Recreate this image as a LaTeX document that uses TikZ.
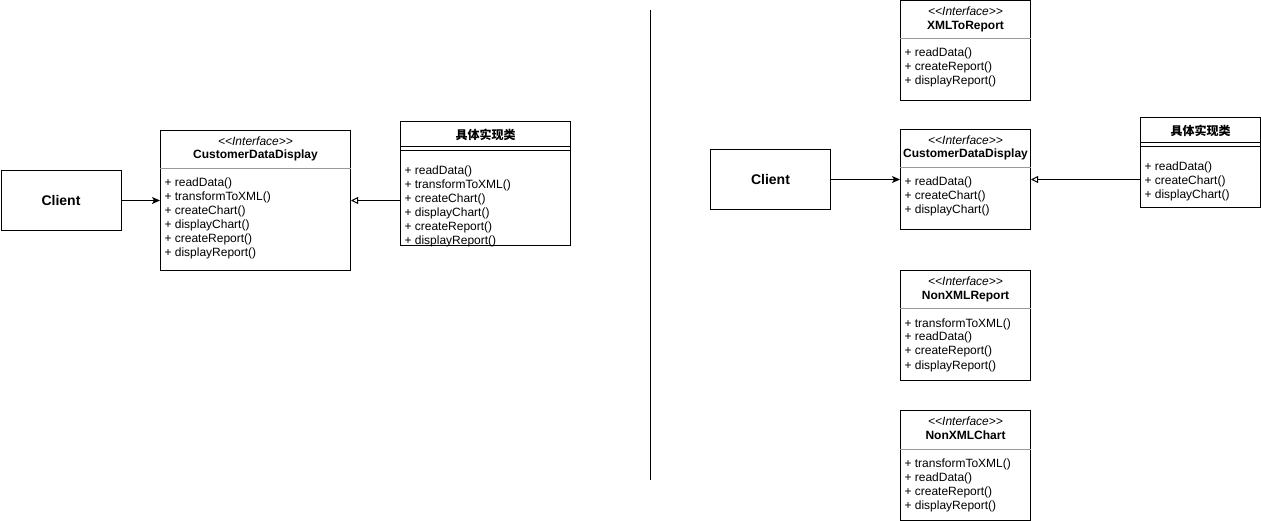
\documentclass[tikz,border=0pt]{standalone}
\usepackage{fontspec}
\setmainfont{Liberation Sans}
\newfontfamily\cjk{Noto Sans CJK SC}
\usetikzlibrary{arrows.meta, positioning}

\begin{document}
\begin{tikzpicture}[
        x=1pt, y=-1pt,
        line width=1pt,
        font=\fontsize{12}{14}\selectfont,
        box/.style={rectangle, draw, anchor=north west, inner sep=0pt},
        clientbox/.style={box, minimum width=120pt, minimum height=60pt, font=\fontsize{14}{16}\selectfont\bfseries},
        stereo/.style={anchor=base, inner sep=0pt, font=\fontsize{12}{14}\selectfont\itshape},
        classname/.style={anchor=base, inner sep=0pt, font=\fontsize{12}{14}\selectfont\bfseries},
        implname/.style={anchor=base, inner sep=0pt, font=\fontsize{12}{14}\selectfont\cjk\bfseries},
        method/.style={anchor=base west, inner sep=0pt},
        divider/.style={draw=black!40},
        uses/.style={-{Stealth[length=8pt, width=7pt, inset=2pt]}},
        realizes/.style={-{Triangle[open, length=7pt, width=7pt]}}
    ]
    \useasboundingbox (0,0) rectangle (1261,521);

    % ---- left: one fat interface
    \node (lclient) [clientbox] at (0.5,170) {Client};

    \node (lcdd) [box, minimum width=190pt, minimum height=140pt] at (160,130) {};
    \node (lcddst) [stereo] at ([yshift=-15.5pt]lcdd.north) {<{}<Interface>{}>};
    \node (lcddnm) [classname] at ([yshift=-29pt]lcdd.north) {CustomerDataDisplay};
    \draw [divider] ([yshift=-38.5pt]lcdd.north west) -- ([yshift=-38.5pt]lcdd.north east);
    \foreach \m [count=\i] in {readData(), transformToXML(), createChart(), displayChart(), createReport(), displayReport()}
        \node (lcddm\i) [method] at ([xshift=4pt, yshift={-57pt-14pt*(\i-1)}]lcdd.north west) {+ \m};

    \node (limpl) [box, minimum width=170pt, minimum height=124pt] at (400,121) {};
    \node (limplnm) [implname] at ([yshift=-18.5pt]limpl.north) {具体实现类};
    \draw ([yshift=-26pt]limpl.north west) -- ([yshift=-26pt]limpl.north east);
    \draw ([yshift=-30pt]limpl.north west) -- ([yshift=-30pt]limpl.north east);
    \foreach \m [count=\i] in {readData(), transformToXML(), createChart(), displayChart(), createReport(), displayReport()}
        \node (limplm\i) [method] at ([xshift=4pt, yshift={-53.5pt-14pt*(\i-1)}]limpl.north west) {+ \m};

    \draw [uses] (lclient) -- (lcdd);
    \draw [realizes] (limpl.west |- lcdd.east) -- (lcdd.east);

    % ---- separator
    \coordinate (septop) at (650,10);
    \coordinate (sepbot) at (650,480);
    \draw (septop) -- (sepbot);

    % ---- right: split interfaces
    \node (rclient) [clientbox] at (710,149) {Client};

    \node (rcdd) [box, minimum width=130pt, minimum height=100pt] at (900,129) {};
    \node (rcddst) [stereo] at ([yshift=-15.5pt]rcdd.north) {<{}<Interface>{}>};
    \node (rcddnm) [classname] at ([yshift=-29pt]rcdd.north) {CustomerDataDisplay};
    \draw [divider] ([yshift=-38.5pt]rcdd.north west) -- ([yshift=-38.5pt]rcdd.north east);
    \foreach \m [count=\i] in {readData(), createChart(), displayChart()}
        \node (rcddm\i) [method] at ([xshift=4pt, yshift={-57pt-14pt*(\i-1)}]rcdd.north west) {+ \m};

    \node (rimpl) [box, minimum width=120pt, minimum height=90pt] at (1140,117) {};
    \node (rimplnm) [implname] at ([yshift=-18.5pt]rimpl.north) {具体实现类};
    \draw ([yshift=-26pt]rimpl.north west) -- ([yshift=-26pt]rimpl.north east);
    \draw ([yshift=-30pt]rimpl.north west) -- ([yshift=-30pt]rimpl.north east);
    \foreach \m [count=\i] in {readData(), createChart(), displayChart()}
        \node (rimplm\i) [method] at ([xshift=4pt, yshift={-53.5pt-14pt*(\i-1)}]rimpl.north west) {+ \m};

    \draw [uses] (rclient) -- (rcdd);
    \draw [realizes] (rimpl.west |- rcdd.east) -- (rcdd.east);

    \node (xtr) [box, minimum width=130pt, minimum height=100pt] at (900,0.5) {};
    \node (xtrst) [stereo] at ([yshift=-15.5pt]xtr.north) {<{}<Interface>{}>};
    \node (xtrnm) [classname] at ([yshift=-29pt]xtr.north) {XMLToReport};
    \draw [divider] ([yshift=-38.5pt]xtr.north west) -- ([yshift=-38.5pt]xtr.north east);
    \foreach \m [count=\i] in {readData(), createReport(), displayReport()}
        \node (xtrm\i) [method] at ([xshift=4pt, yshift={-56pt-14pt*(\i-1)}]xtr.north west) {+ \m};

    \node (nxr) [box, minimum width=130pt, minimum height=110pt] at (900,270) {};
    \node (nxrst) [stereo] at ([yshift=-15.5pt]nxr.north) {<{}<Interface>{}>};
    \node (nxrnm) [classname] at ([yshift=-29.5pt]nxr.north) {NonXMLReport};
    \draw [divider] ([yshift=-39pt]nxr.north west) -- ([yshift=-39pt]nxr.north east);
    \foreach \m [count=\i] in {transformToXML(), readData(), createReport(), displayReport()}
        \node (nxrm\i) [method] at ([xshift=4pt, yshift={-57pt-14pt*(\i-1)}]nxr.north west) {+ \m};

    \node (nxc) [box, minimum width=130pt, minimum height=110pt] at (900,410) {};
    \node (nxcst) [stereo] at ([yshift=-15.5pt]nxc.north) {<{}<Interface>{}>};
    \node (nxcnm) [classname] at ([yshift=-29.5pt]nxc.north) {NonXMLChart};
    \draw [divider] ([yshift=-39pt]nxc.north west) -- ([yshift=-39pt]nxc.north east);
    \foreach \m [count=\i] in {transformToXML(), readData(), createReport(), displayReport()}
        \node (nxcm\i) [method] at ([xshift=4pt, yshift={-57pt-14pt*(\i-1)}]nxc.north west) {+ \m};

\end{tikzpicture}
\end{document}
